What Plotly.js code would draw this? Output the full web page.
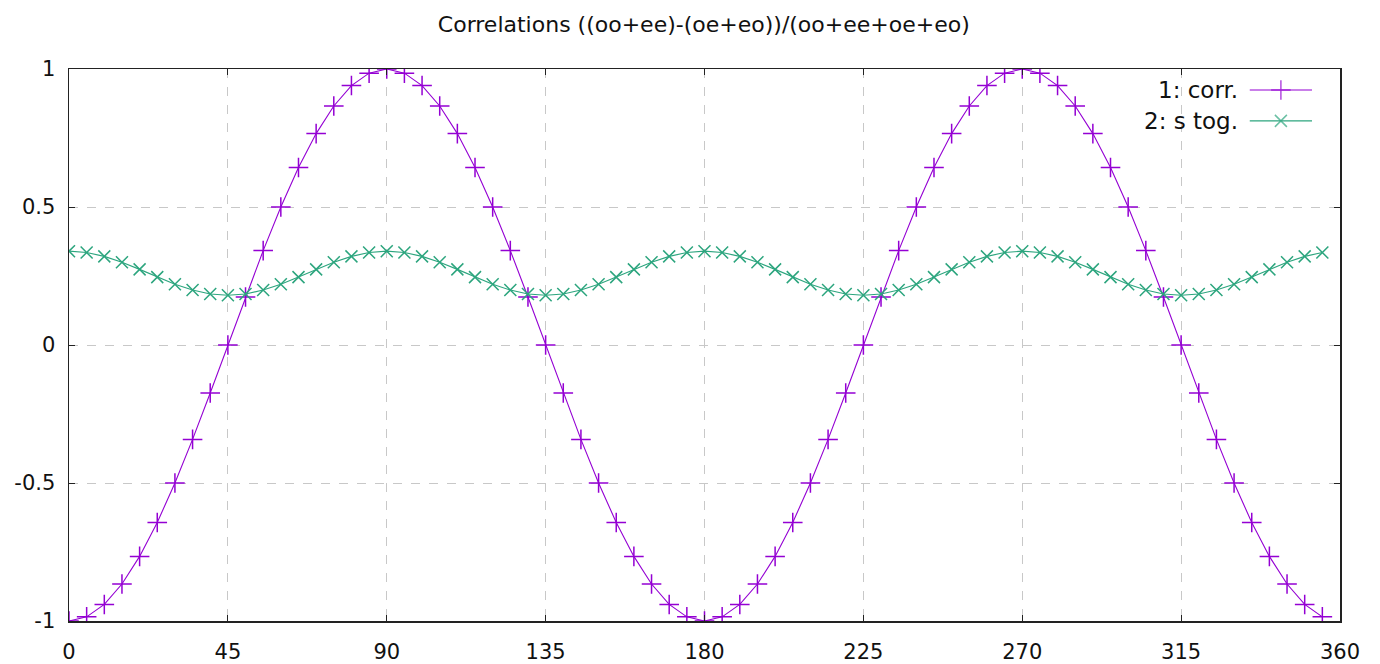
<!DOCTYPE html>
<html><head><meta charset="utf-8">
<script src="https://cdn.plot.ly/plotly-3.0.1.min.js"></script>
<style>body{margin:0;background:#fff}#chart{width:1380px;height:664px}</style>
</head><body><div id="chart"></div>
<script>
const angles = [0,5,10,15,20,25,30,35,40,45,50,55,60,65,70,75,80,85,
  90,95,100,105,110,115,120,125,130,135,140,145,150,155,160,165,170,175,
  180,185,190,195,200,205,210,215,220,225,230,235,240,245,250,255,260,265,
  270,275,280,285,290,295,300,305,310,315,320,325,330,335,340,345,350,355];
const corr = [-1,-0.985,-0.94,-0.866,-0.766,-0.643,-0.5,-0.342,-0.174,0,0.174,0.342,0.5,0.643,0.766,0.866,0.94,0.985,
  1,0.985,0.94,0.866,0.766,0.643,0.5,0.342,0.174,0,-0.174,-0.342,-0.5,-0.643,-0.766,-0.866,-0.94,-0.985,
  -1,-0.985,-0.94,-0.866,-0.766,-0.643,-0.5,-0.342,-0.174,0,0.174,0.342,0.5,0.643,0.766,0.866,0.94,0.985,
  1,0.985,0.94,0.866,0.766,0.643,0.5,0.342,0.174,0,-0.174,-0.342,-0.5,-0.643,-0.766,-0.866,-0.94,-0.985];
const stog = [0.34,0.335,0.321,0.3,0.274,0.246,0.22,0.199,0.185,0.18,0.185,0.199,0.22,0.246,0.274,0.3,0.321,0.335,
  0.34,0.335,0.321,0.3,0.274,0.246,0.22,0.199,0.185,0.18,0.185,0.199,0.22,0.246,0.274,0.3,0.321,0.335,
  0.34,0.335,0.321,0.3,0.274,0.246,0.22,0.199,0.185,0.18,0.185,0.199,0.22,0.246,0.274,0.3,0.321,0.335,
  0.34,0.335,0.321,0.3,0.274,0.246,0.22,0.199,0.185,0.18,0.185,0.199,0.22,0.246,0.274,0.3,0.321,0.335];
const seriesNames = ['1: corr.', '2: s tog.'];
const xTicks = [0,45,90,135,180,225,270,315,360];
const yTicks = [-1,-0.5,0,0.5,1];
const yTickText = ['-1','-0.5','0','0.5','1'];

const purple = '#9400d3', green = '#2ca57e';
const FONT = '"DejaVu Sans", sans-serif';

const traces = [
  {x: angles, y: corr, mode:'lines+markers', name: seriesNames[0], showlegend:false,
   line:{color:purple,width:1.1}, marker:{symbol:'cross-thin-open',size:14,color:purple,line:{color:purple,width:1.5}}},
  {x: angles, y: stog, mode:'lines+markers', name: seriesNames[1], showlegend:false,
   line:{color:green,width:1.1}, marker:{symbol:'x-thin-open',size:12,color:green,line:{color:green,width:1.5}}},
  // legend keys on an invisible overlay axis
  {x:[0.929,0.9535,0.978], y:[0.962,0.962,0.962], xaxis:'x2', yaxis:'y2', mode:'lines+markers', showlegend:false, hoverinfo:'skip',
   line:{color:purple,width:1.1}, marker:{symbol:'cross-thin-open',size:[0,14,0],color:purple,line:{color:purple,width:1.5}}},
  {x:[0.929,0.9535,0.978], y:[0.906,0.906,0.906], xaxis:'x2', yaxis:'y2', mode:'lines+markers', showlegend:false, hoverinfo:'skip',
   line:{color:green,width:1.1}, marker:{symbol:'x-thin-open',size:[0,12,0],color:green,line:{color:green,width:1.5}}}
];

const axCommon = {showline:true, linecolor:'#222', linewidth:1.5, mirror:'ticks', ticks:'inside', ticklen:6, tickcolor:'#222',
  showgrid:true, gridcolor:'#c8c8c8', griddash:'dash', gridwidth:1, zeroline:false, tickfont:{family:FONT,size:21,color:'#111'}};

const layout = {
  width:1380, height:664, paper_bgcolor:'#fff', plot_bgcolor:'#fff',
  margin:{l:69, r:40, t:69, b:43},
  title:{text:'Correlations ((oo+ee)-(oe+eo))/(oo+ee+oe+eo)', x:0.51, xanchor:'center', y:0.963, yanchor:'middle',
    font:{family:FONT,size:22,color:'#111'}},
  xaxis:Object.assign({}, axCommon, {range:[0,360], tickmode:'array', tickvals:xTicks, ticktext:xTicks.map(String), ticklabelstandoff:11}),
  yaxis:Object.assign({}, axCommon, {range:[-1,1], tickmode:'array', tickvals:yTicks, ticktext:yTickText, ticklabelstandoff:8}),
  xaxis2:{overlaying:'x', range:[0,1], visible:false, fixedrange:true},
  yaxis2:{overlaying:'y', range:[0,1], visible:false, fixedrange:true},
  annotations:[
    {xref:'paper', yref:'paper', x:0.921, y:0.962, xanchor:'right', yanchor:'middle', text:seriesNames[0], showarrow:false, font:{family:FONT,size:23,color:'#111'}},
    {xref:'paper', yref:'paper', x:0.921, y:0.906, xanchor:'right', yanchor:'middle', text:seriesNames[1], showarrow:false, font:{family:FONT,size:23,color:'#111'}}
  ]
};
Plotly.newPlot('chart', traces, layout, {staticPlot:true});
</script></body></html>
